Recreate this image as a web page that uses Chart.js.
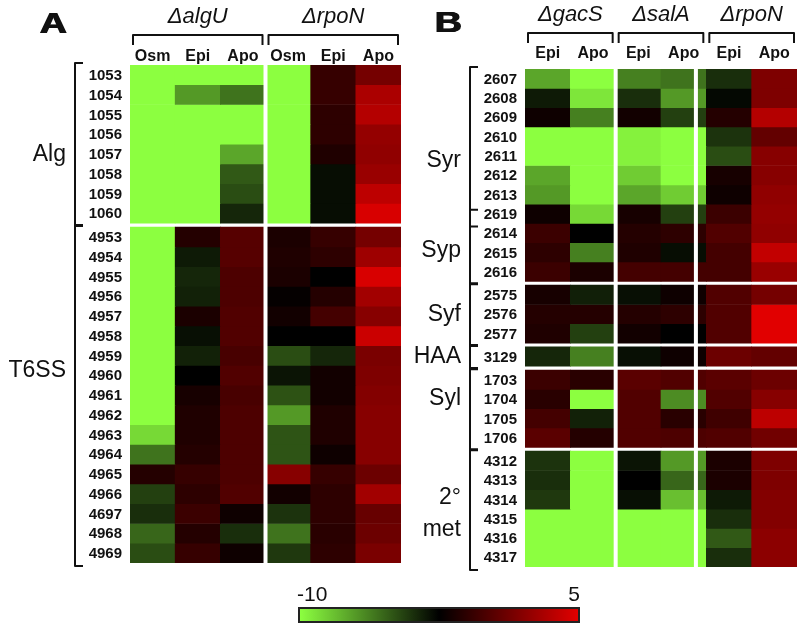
<!DOCTYPE html>
<html>
<head>
<meta charset="utf-8">
<title>Heatmap</title>
<script src="https://cdn.jsdelivr.net/npm/chart.js@4.4.1/dist/chart.umd.min.js"></script>
<style>
  html, body { margin: 0; padding: 0; background: #fff; }
  body { width: 800px; height: 626px; position: relative; overflow: hidden; font-family: "Liberation Sans", Arial, sans-serif; color: #111; }
  #chartA { position: absolute; left: 0; top: 0; }
  #chartB { position: absolute; left: 400px; top: 0; }
  #colorbar { position: absolute; left: 298px; top: 607px; width: 282px; height: 16px; box-sizing: border-box; border: 2px solid #222; }
  .cb-label { position: absolute; top: 583px; font-size: 21px; line-height: 21px; }
</style>
</head>
<body>
<canvas id="chartA" width="402" height="626"></canvas>
<canvas id="chartB" width="400" height="626"></canvas>
<div id="colorbar"></div>
<div class="cb-label" id="cbMin" style="left:297px"></div>
<div class="cb-label" id="cbMax" style="right:220px"></div>
<script>
// colour scale: log2 ratio, green below 0, red above
const scaleMin = -10;
const scaleMax = 5;
const GREEN = [140, 255, 64];
const RED = [225, 0, 0];

// ---- panel A ----
const strainsA = ['\u0394algU', '\u0394rpoN'];
const strainSpanA = [3, 3];
const columnsA = ['Osm', 'Epi', 'Apo', 'Osm', 'Epi', 'Apo'];
const rowsA = ['1053', '1054', '1055', '1056', '1057', '1058', '1059', '1060',
    '4953', '4954', '4955', '4956', '4957', '4958', '4959', '4960', '4961',
    '4962', '4963', '4964', '4965', '4966', '4697', '4968', '4969'];
const blocksA = [8, 17];
const groupsA = ['Alg', 'T6SS'];
const groupFirstA = [0, 8];
const groupLastA = [7, 24];
const valuesA = [
    [-10, -10, -10, -10, 1.2, 2.6],
    [-10, -6, -4.5, -10, 1.2, 3.8],
    [-10, -10, -10, -10, 1.0, 4.0],
    [-10, -10, -10, -10, 1.0, 3.3],
    [-10, -10, -6.5, -10, 0.7, 3.2],
    [-10, -10, -3.5, -10, -0.5, 3.4],
    [-10, -10, -3.0, -10, -0.5, 4.2],
    [-10, -10, -1.5, -10, -0.5, 4.8],
    [-10, 0.8, 1.9, 0.6, 1.2, 2.6],
    [-10, -1.0, 1.9, 0.7, 1.0, 3.5],
    [-10, -1.5, 1.7, 0.6, 0, 4.8],
    [-10, -1.3, 1.7, 0.1, 0.8, 3.6],
    [-10, 0.6, 1.8, 0.4, 1.5, 3.0],
    [-10, -0.6, 1.8, 0, 0, 4.5],
    [-10, -1.3, 1.6, -3.0, -1.5, 2.7],
    [-10, 0, 1.8, -0.8, 0.4, 2.8],
    [-10, 0.5, 1.6, -3.2, 0.4, 2.9],
    [-10, 0.7, 1.7, -6.0, 0.7, 3.0],
    [-8.5, 0.7, 1.7, -3.3, 0.7, 3.0],
    [-4.5, 0.8, 1.7, -3.3, 0.3, 3.0],
    [0.8, 1.2, 1.7, 3.0, 1.2, 2.4],
    [-2.5, 1.0, 1.8, 0.4, 1.0, 3.6],
    [-1.8, 1.3, 0.3, -2.0, 1.0, 2.3],
    [-4.0, 0.8, -1.8, -4.5, 0.9, 2.4],
    [-3.0, 1.2, 0.3, -2.2, 1.0, 2.7]
];

// ---- panel B ----
const strainsB = ['\u0394gacS', '\u0394salA', '\u0394rpoN'];
const strainSpanB = [2, 2, 2];
const columnsB = ['Epi', 'Apo', 'Epi', 'Apo', 'Epi', 'Apo'];
const rowsB = ['2607', '2608', '2609', '2610', '2611', '2612', '2613', '2619',
    '2614', '2615', '2616', '2575', '2576', '2577', '3129',
    '1703', '1704', '1705', '1706', '4312', '4313', '4314', '4315', '4316', '4317'];
const blocksB = [11, 3, 1, 4, 6];
const groupsB = ['Syr', 'Syp', 'Syf', 'HAA', 'Syl', '2\u00b0\nmet'];
const groupFirstB = [0, 7, 11, 14, 15, 19];
const groupLastB = [7, 10, 13, 14, 18, 24];
const valuesB = [
    [-6.5, -10, -5, -4.5, -1.8, 2.8],
    [-1.0, -9, -1.8, -6, -0.3, 2.8],
    [0.3, -5, 0.4, -2.5, 0.8, 4.0],
    [-10, -10, -9.5, -10, -2.0, 2.2],
    [-10, -10, -9.5, -10, -3.0, 3.0],
    [-6.5, -10, -8, -10, 0.5, 3.0],
    [-6, -10, -6.5, -8, 0.3, 3.2],
    [0.3, -8.5, 0.5, -2.5, 1.3, 3.3],
    [1.3, 0, 0.8, 1.0, 1.8, 3.2],
    [1.0, -5, 0.7, -0.5, 1.5, 4.3],
    [1.3, 0.6, 1.5, 1.5, 1.5, 3.4],
    [0.5, -1.2, -0.6, 0.3, 1.8, 2.6],
    [0.8, 0.8, 0.8, 1.0, 1.8, 5],
    [0.7, -2.5, 0.4, 0, 1.8, 5],
    [-1.5, -5, -0.6, 0.3, 2.4, 2.2],
    [1.3, 0.9, 2.0, 1.8, 2.0, 2.4],
    [0.9, -10, 1.8, -5.5, 1.8, 3.0],
    [1.5, -1.3, 1.8, 0.9, 1.4, 4.2],
    [2.0, 0.8, 1.8, 1.7, 1.8, 2.5],
    [-2.0, -10, -0.8, -6, 0.6, 2.8],
    [-1.8, -10, 0, -4.0, 0.6, 2.8],
    [-2.2, -10, -0.6, -7.5, -1.0, 2.9],
    [-10, -10, -10, -10, -1.8, 2.9],
    [-10, -10, -10, -10, -3.5, 3.1],
    [-10, -10, -10, -10, -1.8, 3.1]
];

const FONT = '"Liberation Sans", Arial, sans-serif';
const ROW_GAP = 0.2;

function heatColor(v) {
    const stop = v < 0 ? GREEN : RED;
    const t = Math.min(Math.abs(v) / Math.abs(v < 0 ? scaleMin : scaleMax), 1);
    return 'rgb(' + stop.map(c => Math.round(c * t)).join(',') + ')';
}

function rowStarts(blocks) {
    const starts = [];
    let pos = 0;
    blocks.forEach(n => {
        for (let i = 0; i < n; i++) { starts.push(pos); pos += 1; }
        pos += ROW_GAP;
    });
    return starts;
}

function makeDecor(p, starts) {
    return {
        id: 'decor' + p.letter,
        afterDatasetsDraw(chart) {
            const { ctx, chartArea: area, scales: { x, y } } = chart;
            const rowPx = y.getPixelForValue(1) - y.getPixelForValue(0);
            ctx.save();

            // white separators between strains
            ctx.fillStyle = '#fff';
            p.splits.forEach(s => {
                const px = x.getPixelForValue(s);
                ctx.fillRect(px - 2, area.top, 4, area.bottom - area.top);
            });

            ctx.fillStyle = '#111';
            ctx.strokeStyle = '#111';
            ctx.lineWidth = 2;
            ctx.lineJoin = 'round';

            // panel letter, thickened by a few offset passes
            ctx.font = 'bold 29px ' + FONT;
            ctx.textAlign = 'left';
            ctx.textBaseline = 'alphabetic';
            ctx.save();
            ctx.translate(area.left - 91, p.letterY);
            ctx.scale(1.3, 1);
            [0, 0.6, 1.2].forEach(dx => ctx.fillText(p.letter, dx, 0));
            ctx.restore();

            // strain headers with brackets
            ctx.textAlign = 'center';
            ctx.textBaseline = 'middle';
            let c = 0;
            p.strains.forEach((s, k) => {
                const x0 = x.getPixelForValue(c - 0.5) + 3;
                const x1 = x.getPixelForValue(c + p.strainSpan[k] - 0.5) - 3;
                ctx.font = 'italic 22px ' + FONT;
                ctx.fillText(s, (x0 + x1) / 2, p.headerY);
                ctx.beginPath();
                ctx.moveTo(x0, p.bracketY + 10);
                ctx.lineTo(x0, p.bracketY);
                ctx.lineTo(x1, p.bracketY);
                ctx.lineTo(x1, p.bracketY + 10);
                ctx.stroke();
                c += p.strainSpan[k];
            });

            // column labels
            ctx.font = 'bold 16px ' + FONT;
            p.columns.forEach((l, i) => ctx.fillText(l, x.getPixelForValue(i), p.colLabelY));

            // row labels
            ctx.font = 'bold 15px ' + FONT;
            ctx.textAlign = 'right';
            p.rows.forEach((r, i) => ctx.fillText(r, area.left - 8, y.getPixelForValue(starts[i] + 0.5) + 1));

            // group brackets and names
            const bx = area.left - 55;
            p.groups.forEach((g, k) => {
                const first = p.groupFirst[k];
                const last = p.groupLast[k];
                const shared = k > 0 && first <= p.groupLast[k - 1];
                const top = y.getPixelForValue(starts[first] + (shared ? 0.4 : 0)) - 2;
                const bot = y.getPixelForValue(starts[last] + 1) + 3;
                ctx.beginPath();
                ctx.moveTo(bx + 8, top);
                ctx.lineTo(bx, top);
                ctx.lineTo(bx, bot);
                ctx.lineTo(bx + 8, bot);
                ctx.stroke();

                const lines = g.split('\n');
                const cy = (top + bot) / 2 + p.labelShift[k] * rowPx;
                ctx.font = '23px ' + FONT;
                lines.forEach((ln, j) => {
                    ctx.fillText(ln, area.left - 64, cy + (j - (lines.length - 1) / 2) * 32);
                });
            });
            ctx.restore();
        }
    };
}

function buildPanel(canvasId, p) {
    const starts = rowStarts(p.blocks);
    const total = starts[starts.length - 1] + 1;
    const datasets = p.rows.map((name, i) => ({
        label: name,
        data: p.columns.map(() => [starts[i], starts[i] + 1]),
        backgroundColor: p.values[i].map(heatColor),
        borderWidth: 0,
        grouped: false,
        barPercentage: 1,
        categoryPercentage: 1
    }));

    return new Chart(document.getElementById(canvasId), {
        type: 'bar',
        data: { labels: p.columns, datasets: datasets },
        options: {
            responsive: false,
            animation: false,
            layout: { padding: p.padding },
            scales: {
                x: { display: false },
                y: { display: false, reverse: true, min: 0, max: total }
            },
            plugins: {
                legend: { display: false },
                tooltip: { enabled: false }
            }
        },
        plugins: [makeDecor(p, starts)]
    });
}

buildPanel('chartA', {
    letter: 'A', letterY: 33,
    strains: strainsA, strainSpan: strainSpanA,
    columns: columnsA, rows: rowsA, values: valuesA, blocks: blocksA,
    groups: groupsA, groupFirst: groupFirstA, groupLast: groupLastA,
    labelShift: [0.5, -1.25],
    splits: [2.5],
    headerY: 17, bracketY: 35, colLabelY: 57,
    padding: { left: 130, right: 1, top: 65, bottom: 63 }
});

buildPanel('chartB', {
    letter: 'B', letterY: 32,
    strains: strainsB, strainSpan: strainSpanB,
    columns: columnsB, rows: rowsB, values: valuesB, blocks: blocksB,
    groups: groupsB, groupFirst: groupFirstB, groupLast: groupLastB,
    labelShift: [0.7, 0.2, 0, 0, -0.55, 0.2],
    splits: [1.5, 3.27],
    headerY: 15, bracketY: 33, colLabelY: 54,
    padding: { left: 125, right: 3, top: 69, bottom: 59 }
});

// colour bar legend
document.getElementById('colorbar').style.background =
    'linear-gradient(to right, ' + heatColor(scaleMin) + ', #000 50%, ' + heatColor(scaleMax) + ')';
document.getElementById('cbMin').textContent = String(scaleMin);
document.getElementById('cbMax').textContent = String(scaleMax);
</script>
</body>
</html>
